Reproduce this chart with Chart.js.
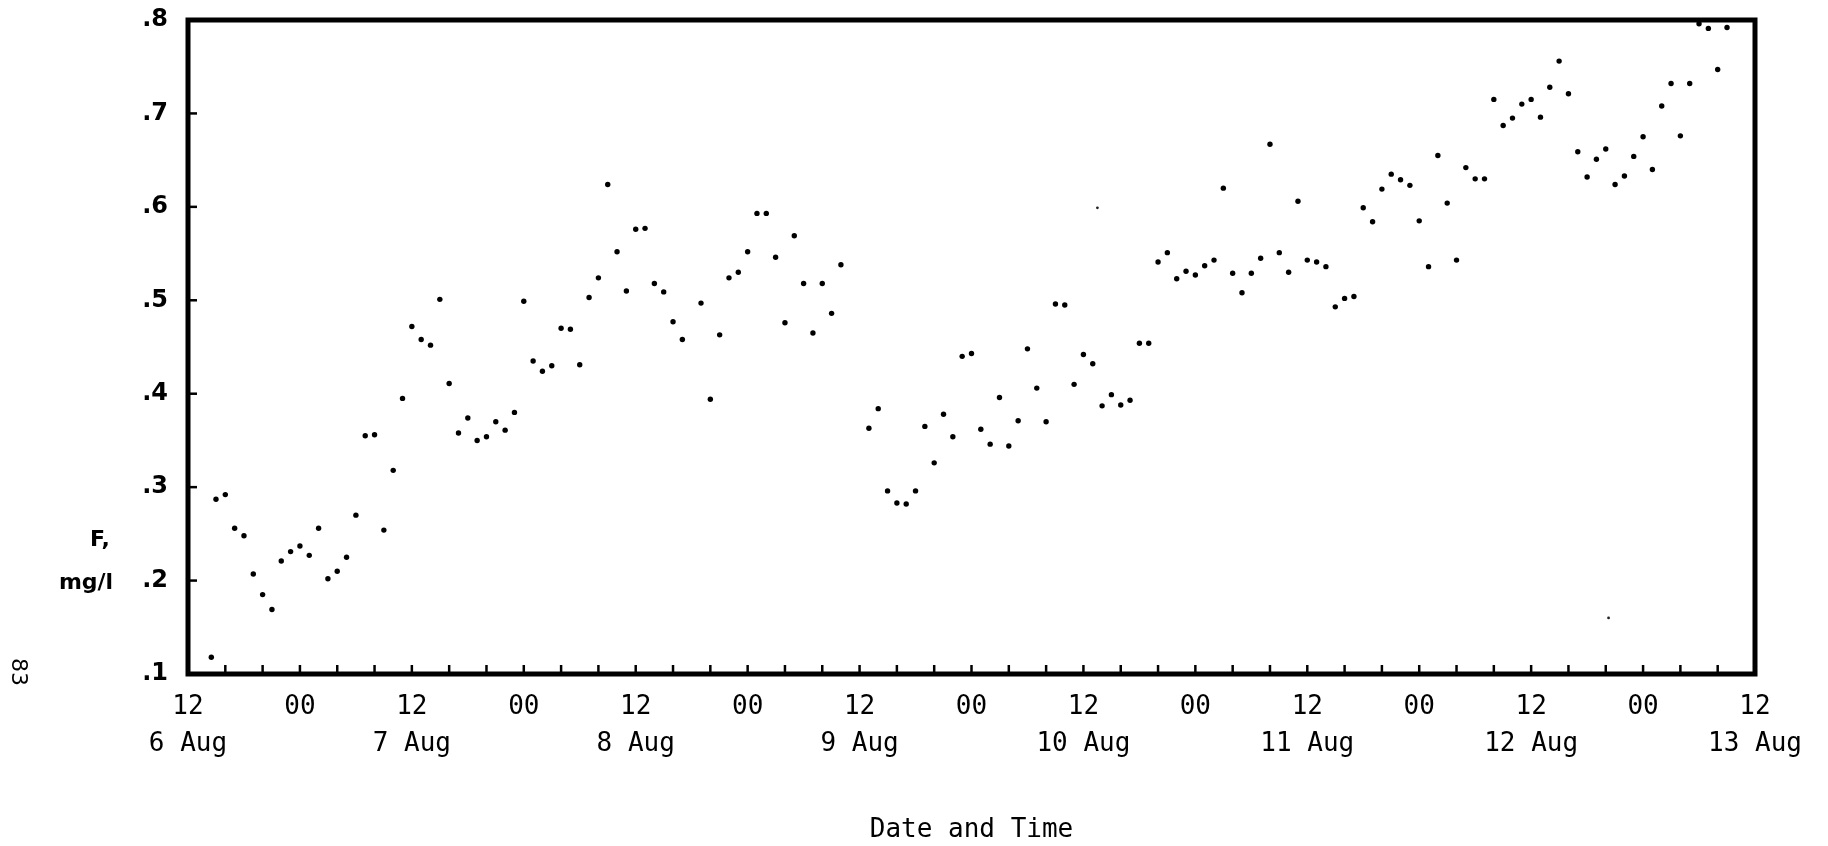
<!DOCTYPE html>
<html>
<head>
<meta charset="utf-8">
<title>F, mg/l - 6 to 13 Aug</title>
<script src="https://cdn.jsdelivr.net/npm/chart.js@4.4.1/dist/chart.umd.min.js"></script>
<style>
  html, body { margin: 0; padding: 0; background: #fff; }
  #wrap { width: 1828px; height: 846px; }
</style>
</head>
<body>
<div id="wrap"><canvas id="fluorideChart" width="1828" height="846"></canvas></div>
<script>
// hours after 12:00 on 6 Aug
var hours = [2.5, 3, 4, 5, 6, 7, 8, 9, 10, 11, 12, 13, 14, 15, 16, 17, 18, 19, 20, 21, 22, 23,
  24, 25, 26, 27, 28, 29, 30, 31, 32, 33, 34, 35, 36, 37, 38, 39, 40, 41, 42, 43, 44, 45, 46, 47,
  48, 49, 50, 51, 52, 53, 55, 56, 57, 58, 59, 60, 61, 62, 63, 64, 65, 66, 67, 68, 69, 70,
  73, 74, 75, 76, 77, 78, 79, 80, 81, 82, 83, 84, 85, 86, 87, 88, 89, 90, 91, 92, 93, 94, 95,
  96, 97, 98, 99, 100, 101, 102, 103, 104, 105, 106, 107, 108, 109, 110, 111, 112, 113, 114, 115, 116, 117, 118, 119,
  120, 121, 122, 123, 124, 125, 126, 127, 128, 129, 130, 131, 132, 133, 134, 135, 136, 137, 138, 139, 140, 141, 142, 143,
  144, 145, 146, 147, 148, 149, 150, 151, 152, 153, 154, 155, 156, 157, 158, 159, 160, 161, 162, 163, 164, 165];

var fluoride = [0.118, 0.287, 0.292, 0.256, 0.248, 0.207, 0.185, 0.169, 0.221, 0.231, 0.237, 0.227, 0.256, 0.202, 0.210, 0.225, 0.270, 0.355, 0.356, 0.254, 0.318, 0.395,
  0.472, 0.458, 0.452, 0.501, 0.411, 0.358, 0.374, 0.350, 0.354, 0.370, 0.361, 0.380, 0.499, 0.435, 0.424, 0.430, 0.470, 0.469, 0.431, 0.503, 0.524, 0.624, 0.552, 0.510,
  0.576, 0.577, 0.518, 0.509, 0.477, 0.458, 0.497, 0.394, 0.463, 0.524, 0.530, 0.552, 0.593, 0.593, 0.546, 0.476, 0.569, 0.518, 0.465, 0.518, 0.486, 0.538,
  0.363, 0.384, 0.296, 0.283, 0.282, 0.296, 0.365, 0.326, 0.378, 0.354, 0.440, 0.443, 0.362, 0.346, 0.396, 0.344, 0.371, 0.448, 0.406, 0.370, 0.496, 0.495, 0.410,
  0.442, 0.432, 0.387, 0.399, 0.388, 0.393, 0.454, 0.454, 0.541, 0.551, 0.523, 0.531, 0.527, 0.537, 0.543, 0.620, 0.529, 0.508, 0.529, 0.545, 0.667, 0.551, 0.530, 0.606,
  0.543, 0.541, 0.536, 0.493, 0.502, 0.504, 0.599, 0.584, 0.619, 0.635, 0.629, 0.623, 0.585, 0.536, 0.655, 0.604, 0.543, 0.642, 0.630, 0.630, 0.715, 0.687, 0.695, 0.710,
  0.715, 0.696, 0.728, 0.756, 0.721, 0.659, 0.632, 0.651, 0.662, 0.624, 0.633, 0.654, 0.675, 0.640, 0.708, 0.732, 0.676, 0.732, 0.796, 0.791, 0.747, 0.792];

// the two faint, smaller dots
var faintHours = [97.5, 152.3];
var faintFluoride = [0.599, 0.160];

var dayLabels = ['6 Aug', '7 Aug', '8 Aug', '9 Aug', '10 Aug', '11 Aug', '12 Aug', '13 Aug'];

function toPoints(xs, ys) {
  return xs.map(function(h, i) { return { x: h, y: ys[i] }; });
}

// frame, inward tick marks and the side texts
var frame = {
  id: 'frame',
  afterDraw: function(chart) {
    var ctx = chart.ctx, a = chart.chartArea;
    var sx = chart.scales.x, sy = chart.scales.y;
    ctx.save();
    ctx.strokeStyle = '#000';
    ctx.lineWidth = 2.5;
    sx.ticks.forEach(function(t) {
      var px = sx.getPixelForValue(t.value);
      ctx.beginPath();
      ctx.moveTo(px, a.bottom);
      ctx.lineTo(px, a.bottom - 9);
      ctx.stroke();
    });
    sy.ticks.forEach(function(t) {
      var py = sy.getPixelForValue(t.value);
      ctx.beginPath();
      ctx.moveTo(a.left, py);
      ctx.lineTo(a.left + 9, py);
      ctx.stroke();
    });
    ctx.lineWidth = 5;
    ctx.strokeRect(a.left, a.top, a.right - a.left, a.bottom - a.top);

    ctx.fillStyle = '#000';
    ctx.textAlign = 'center';
    ctx.textBaseline = 'middle';
    ctx.font = 'bold 22px "DejaVu Sans"';
    ctx.fillText('F,', 100, 540);
    ctx.fillText('mg/l', 86, 583);

    ctx.translate(18, 672);
    ctx.rotate(Math.PI / 2);
    ctx.font = '22px "DejaVu Sans"';
    ctx.fillText('83', 0, 0);
    ctx.restore();
  }
};

var ctx = document.getElementById('fluorideChart').getContext('2d');
var chart = new Chart(ctx, {
  type: 'scatter',
  data: {
    datasets: [{
      label: 'F',
      data: toPoints(hours, fluoride),
      backgroundColor: '#000',
      borderWidth: 0,
      pointRadius: 2.7
    }, {
      label: 'F (faint)',
      data: toPoints(faintHours, faintFluoride),
      backgroundColor: '#222',
      borderWidth: 0,
      pointRadius: 1.4
    }]
  },
  options: {
    responsive: false,
    animation: false,
    layout: { padding: { left: 0, right: 73, top: 20, bottom: 0 } },
    plugins: { legend: { display: false }, tooltip: { enabled: false } },
    scales: {
      x: {
        type: 'linear',
        min: 0,
        max: 168,
        afterFit: function(scale) {
          scale.height = 172;
          scale.paddingLeft = 0;
          scale.paddingRight = 0;
        },
        grid: { display: false, drawTicks: false },
        border: { display: false },
        ticks: {
          stepSize: 4,
          autoSkip: false,
          maxRotation: 0,
          padding: 15,
          color: '#000',
          font: { family: '"DejaVu Sans Mono"', size: 26, lineHeight: 1.42 },
          callback: function(v) {
            if (v % 24 === 0) return ['12', dayLabels[v / 24]];
            if (v % 24 === 12) return '00';
            return '';
          }
        },
        title: {
          display: true,
          text: 'Date and Time',
          color: '#000',
          font: { family: '"DejaVu Sans Mono"', size: 26 },
          padding: { top: 0, bottom: 0 }
        }
      },
      y: {
        min: 0.1,
        max: 0.8,
        afterFit: function(scale) {
          scale.width = 188;
          scale.paddingTop = 0;
          scale.paddingBottom = 0;
        },
        grid: { display: false, drawTicks: false },
        border: { display: false },
        ticks: {
          stepSize: 0.1,
          padding: 20,
          color: '#000',
          font: { family: '"DejaVu Sans"', size: 24, weight: 'bold' },
          callback: function(v) { return v.toFixed(1).replace(/^0/, ''); }
        }
      }
    }
  },
  plugins: [frame]
});
</script>
</body>
</html>
